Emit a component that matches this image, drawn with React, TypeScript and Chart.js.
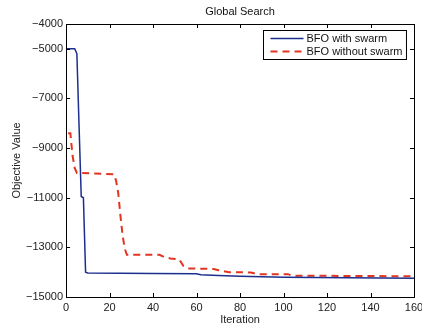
import React, { useEffect, useRef } from "react";
import { Chart, registerables } from "chart.js";

Chart.register(...registerables);

const chartTitle = "Global Search";
const xTitle = "Iteration";
const yTitle = "Objective Value";
const xTicks = [0, 20, 40, 60, 80, 100, 120, 140, 160];
const yTicks = [-15000, -13000, -11000, -9000, -7000, -5000, -4000];

const swarmLabel = "BFO with swarm";
const swarmIter = [0, 1, 2, 3, 4, 5, 6, 7, 8, 9, 10, 40, 60, 62, 70, 80, 100, 130, 160];
const swarmVals = [-5000, -5000, -5000, -5000, -5000, -5200, -8100, -10950, -11000, -14000, -14030, -14050, -14060, -14100, -14130, -14165, -14200, -14225, -14240];

const noSwarmLabel = "BFO without swarm";
const noSwarmIter = [1, 2, 3, 4, 5, 22, 23, 24, 25, 26, 27, 28, 43, 45, 48, 52, 54, 56, 68, 70, 75, 85, 88, 102, 104, 160];
const noSwarmVals = [-8400, -8400, -9300, -9800, -10000, -10050, -10300, -10800, -11700, -12500, -13050, -13300, -13300, -13380, -13450, -13480, -13750, -13850, -13870, -13920, -14000, -14010, -14080, -14080, -14140, -14165];

const FONT = '"Liberation Sans", Arial, Helvetica, sans-serif';
const BLUE = "#1c2f8e";
const RED = "#e2341f";

const fmt = (v: number) => String(v).replace("-", "\u2212");

const framePlugin = {
  id: "frame",
  afterDatasetsDraw(chart: any) {
    const { ctx, chartArea: a, scales } = chart;
    const xs = scales.x;
    const ys = scales.y;
    ctx.save();
    ctx.strokeStyle = "#000";
    ctx.lineWidth = 1;
    ctx.strokeRect(a.left + 0.5, a.top + 0.5, a.right - a.left, a.bottom - a.top);
    const tl = 4;
    ctx.beginPath();
    xTicks.forEach((t) => {
      const px = Math.round(xs.getPixelForValue(t)) + 0.5;
      ctx.moveTo(px, a.bottom);
      ctx.lineTo(px, a.bottom - tl);
      ctx.moveTo(px, a.top);
      ctx.lineTo(px, a.top + tl);
    });
    yTicks.forEach((t) => {
      const py = Math.round(ys.getPixelForValue(t)) + 0.5;
      ctx.moveTo(a.left, py);
      ctx.lineTo(a.left + tl, py);
      ctx.moveTo(a.right, py);
      ctx.lineTo(a.right - tl, py);
    });
    ctx.stroke();

    // title centred over plot area
    ctx.font = `11px ${FONT}`;
    ctx.fillStyle = "#111";
    ctx.textAlign = "center";
    ctx.textBaseline = "middle";
    ctx.fillText(chartTitle, (a.left + a.right) / 2, a.top - 12);

    // legend
    const ds = chart.data.datasets;
    const textW = Math.max(...ds.map((d: any) => ctx.measureText(d.label).width));
    const sample = 33;
    const boxW = 7 + sample + 3 + textW + 4;
    const boxH = 29;
    const bx = Math.round(a.right - 8 - boxW) + 0.5;
    const by = Math.round(a.top + 6) + 0.5;
    ctx.fillStyle = "#fff";
    ctx.fillRect(bx, by, boxW, boxH);
    ctx.strokeStyle = "#000";
    ctx.lineWidth = 1;
    ctx.strokeRect(bx, by, boxW, boxH);
    ds.forEach((d: any, i: number) => {
      const ly = by + 8 + i * 13;
      ctx.beginPath();
      ctx.strokeStyle = d.borderColor;
      ctx.lineWidth = d.borderWidth;
      ctx.setLineDash(d.borderDash || []);
      ctx.moveTo(bx + 7, ly);
      ctx.lineTo(bx + 7 + sample, ly);
      ctx.stroke();
      ctx.setLineDash([]);
      ctx.fillStyle = "#111";
      ctx.textBaseline = "middle";
      ctx.textAlign = "left";
      ctx.fillText(d.label, bx + 7 + sample + 3, ly);
    });
    ctx.restore();
  },
};

export default function App() {
  const ref = useRef<HTMLCanvasElement>(null);
  useEffect(() => {
    if (!ref.current) return;
    const chart = new Chart(ref.current, {
      type: "line",
      data: {
        datasets: [
          {
            label: swarmLabel,
            data: swarmIter.map((x, i) => ({ x, y: swarmVals[i] })),
            borderColor: BLUE,
            borderWidth: 1.5,
            pointRadius: 0,
            tension: 0,
            fill: false,
          },
          {
            label: noSwarmLabel,
            data: noSwarmIter.map((x, i) => ({ x, y: noSwarmVals[i] })),
            borderColor: RED,
            borderWidth: 2,
            borderDash: [7, 5],
            pointRadius: 0,
            tension: 0,
            fill: false,
          },
        ],
      },
      options: {
        animation: false,
        responsive: true,
        maintainAspectRatio: false,
        layout: { padding: { top: 24, right: 8, left: 0, bottom: 0 } },
        plugins: {
          legend: { display: false },
          tooltip: { enabled: false },
          title: { display: false },
        },
        scales: {
          x: {
            type: "linear",
            min: 0,
            max: 160,
            grid: { display: false, drawTicks: false },
            border: { display: false },
            ticks: {
              stepSize: 20,
              color: "#222",
              padding: 4,
              maxRotation: 0,
              font: { family: FONT, size: 11 },
            },
            title: {
              display: true,
              text: xTitle,
              color: "#222",
              font: { family: FONT, size: 11, lineHeight: 1.2 },
              padding: { top: 0, bottom: 0 },
            },
            afterFit(scale: any) {
              scale.height = 30;
              scale.paddingRight = 0;
              scale.paddingLeft = 0;
            },
          },
          y: {
            type: "linear",
            min: -15000,
            max: -4000,
            grid: { display: false, drawTicks: false },
            border: { display: false },
            afterBuildTicks(scale: any) {
              scale.ticks = yTicks.map((v) => ({ value: v }));
            },
            ticks: {
              color: "#222",
              padding: 3,
              font: { family: FONT, size: 11 },
              callback: (v: any) => fmt(Number(v)),
            },
            title: {
              display: true,
              text: yTitle,
              color: "#222",
              font: { family: FONT, size: 11, lineHeight: 1.2 },
              padding: { top: 10, bottom: 0 },
            },
            afterFit(scale: any) {
              scale.width = 66;
              scale.paddingTop = 0;
              scale.paddingBottom = 0;
            },
          },
        },
      },
      plugins: [framePlugin],
    } as any);
    return () => chart.destroy();
  }, []);
  return (
    <div style={{ position: "fixed", left: 0, top: 0, width: 422, height: 327, background: "#fff" }}>
      <canvas ref={ref} />
    </div>
  );
}
